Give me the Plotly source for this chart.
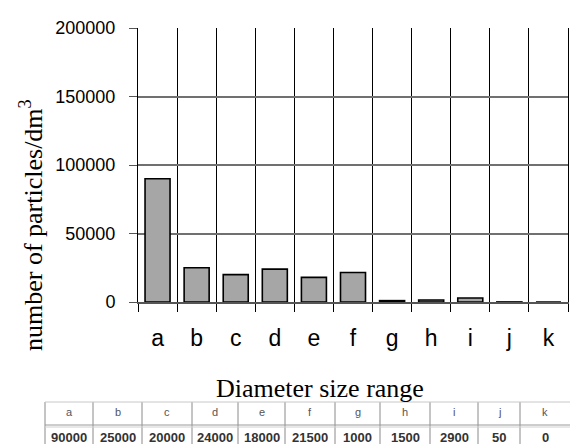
import plotly.graph_objects as go

categories = ["a", "b", "c", "d", "e", "f", "g", "h", "i", "j", "k"]
values = [90000, 25000, 20000, 24000, 18000, 21500, 1000, 1500, 2900, 50, 0]
table_values = ["90000", "25000", "20000", "24000", "18000", "21500", "1000", "1500", "2900", "50", "0"]
y_ticks = [0, 50000, 100000, 150000, 200000]

W, H = 570, 444
L, R, T, B = 138, 2, 28, 142
PW, PH = W - L - R, H - T - B


def px(x):
    return (x - L) / PW


def py(y):
    return (H - B - y) / PH


fig = go.Figure()
fig.add_trace(go.Bar(
    x=categories, y=values, width=0.64,
    marker=dict(color="#a6a6a6", line=dict(color="black", width=1.6)),
    showlegend=False,
))

# table drawn below the chart
col_edges = [45, 93, 142, 192, 238, 285, 335, 380, 430, 478, 520, 570]
shapes = []
ann = []
for e in col_edges[:-1]:
    shapes.append(dict(type="line", xref="paper", yref="paper", x0=px(e), x1=px(e),
                       y0=py(402), y1=py(446), line=dict(color="#8a8a8a", width=1)))
for yy, c in [(402, "#c8c8c8"), (425, "#9a9a9a"), (427, "#d0d0d0")]:
    shapes.append(dict(type="line", xref="paper", yref="paper", x0=px(45), x1=px(570),
                       y0=py(yy), y1=py(yy), line=dict(color=c, width=1)))
for i, (cat, val) in enumerate(zip(categories, table_values)):
    cx = (col_edges[i] + col_edges[i + 1]) / 2
    ann.append(dict(xref="paper", yref="paper", x=px(cx), y=py(412), text=cat,
                    xanchor="center", yanchor="middle",
                    showarrow=False, font=dict(family="Liberation Sans", size=11, color="#555")))
    ann.append(dict(xref="paper", yref="paper", x=px(cx), y=py(437), text="<b>" + val + "</b>",
                    xanchor="center", yanchor="middle",
                    showarrow=False, font=dict(family="Liberation Sans", size=13, color="#333")))

ann.append(dict(xref="paper", yref="paper", x=px(320), y=py(388), text="Diameter size range",
                xanchor="center", yanchor="middle",
                showarrow=False, font=dict(family="Liberation Serif", size=26, color="black")))
ann.append(dict(xref="paper", yref="paper", x=px(31), y=py(225),
                text="number of particles/dm<sup>3</sup>", textangle=-90,
                xanchor="center", yanchor="middle",
                showarrow=False, font=dict(family="Liberation Serif", size=26, color="black")))

fig.update_layout(
    width=W, height=H,
    margin=dict(l=L, r=R, t=T, b=B, pad=0),
    paper_bgcolor="white", plot_bgcolor="white",
    bargap=0.36,
    shapes=shapes, annotations=ann,
    xaxis=dict(
        type="category", range=[-0.5, 10.5],
        tickson="boundaries", ticks="outside", ticklen=8, tickcolor="black", tickwidth=1,
        showgrid=True, gridcolor="black", gridwidth=1,
        showline=True, linecolor="#555", linewidth=2,
        tickfont=dict(family="Liberation Sans", size=23, color="black"),
        ticklabelstandoff=14,
    ),
    yaxis=dict(
        range=[0, 200000], tickvals=y_ticks, tickformat="d",
        ticks="outside", ticklen=8, tickcolor="#555", tickwidth=1,
        showgrid=True, gridcolor="#707070", gridwidth=1.5,
        zeroline=False,
        showline=True, linecolor="black", linewidth=1, mirror=True,
        tickfont=dict(family="Liberation Sans", size=18, color="black"),
        ticklabelstandoff=10,
    ),
)

fig.write_html("out.html", config={"displayModeBar": False},
               post_script="document.body.style.margin='0';")
